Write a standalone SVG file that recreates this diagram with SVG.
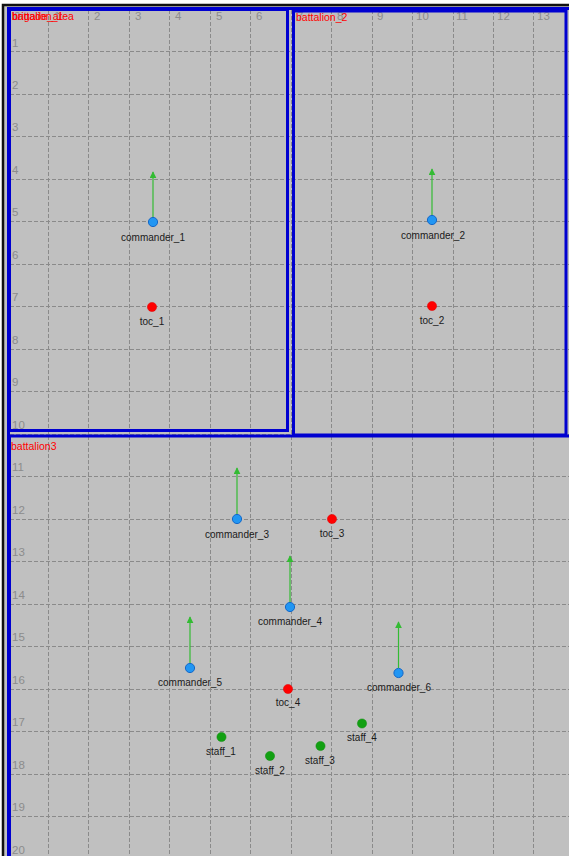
<svg xmlns="http://www.w3.org/2000/svg" width="569" height="856" viewBox="0 0 569 856">
<defs>
<style>
.grid{stroke:#8a8a8a;stroke-width:1;stroke-dasharray:4 2;fill:none}
.axis{font-family:"Liberation Sans",Arial,sans-serif;font-size:11.5px;fill:#8c8c8c}
.area{fill:none;stroke:#0000d0;stroke-width:3}
.alabel{font-family:"Liberation Sans",Arial,sans-serif;font-size:10.5px;fill:#ff0000}
.nlabel{font-family:"Liberation Sans",Arial,sans-serif;font-size:10px;fill:#1a1a1a;text-anchor:middle}
.cmd{fill:#2196f3;stroke:#1467c8;stroke-width:1}
.toc{fill:#ff0000;stroke:#e00000;stroke-width:0.5}
.staff{fill:#12a012;stroke:#0c8c0c;stroke-width:0.5}
.head{stroke:#33bb33;stroke-width:1.2;fill:none;marker-end:url(#ah)}
</style>
<marker id="ah" viewBox="0 0 10 10" refX="9" refY="5" markerWidth="7" markerHeight="7" markerUnits="userSpaceOnUse" orient="auto">
<path d="M0,0 L10,5 L0,10 z" fill="#33bb33"/>
</marker>
</defs>
<rect x="0" y="0" width="569" height="856" fill="#ffffff"/>
<rect x="3" y="4" width="566" height="852" fill="#c0c0c0"/>
<path d="M3,856 V5 H569" stroke="#111111" stroke-width="2.5" fill="none"/>
<g id="grid">
<path class="grid" d="M48.5,10V856M88.5,10V856M129.5,10V856M169.5,10V856M210.5,10V856M250.5,10V856M291.5,10V856M331.5,10V856M372.5,10V856M412.5,10V856M453.5,10V856M493.5,10V856M533.5,10V856"/>
<path class="grid" d="M10,51.5H569M10,94.5H569M10,136.5H569M10,179.5H569M10,221.5H569M10,264.5H569M10,306.5H569M10,349.5H569M10,391.5H569M10,434.5H569M10,476.5H569M10,519.5H569M10,561.5H569M10,604.5H569M10,646.5H569M10,689.5H569M10,731.5H569M10,774.5H569M10,816.5H569"/>
</g>
<g id="axis-labels" class="axis">
<text x="14" y="20">0</text>
<text x="54" y="20">1</text>
<text x="94" y="20">2</text>
<text x="135" y="20">3</text>
<text x="175" y="20">4</text>
<text x="216" y="20">5</text>
<text x="256" y="20">6</text>
<text x="297" y="20">7</text>
<text x="337" y="20">8</text>
<text x="377" y="20">9</text>
<text x="416" y="20">10</text>
<text x="456" y="20">11</text>
<text x="497" y="20">12</text>
<text x="537" y="20">13</text>
<text x="12" y="47">1</text>
<text x="12" y="89">2</text>
<text x="12" y="131">3</text>
<text x="12" y="174">4</text>
<text x="12" y="216">5</text>
<text x="12" y="259">6</text>
<text x="12" y="301">7</text>
<text x="12" y="344">8</text>
<text x="12" y="386">9</text>
<text x="12" y="429">10</text>
<text x="12" y="471">11</text>
<text x="12" y="514">12</text>
<text x="12" y="556">13</text>
<text x="12" y="599">14</text>
<text x="12" y="641">15</text>
<text x="12" y="684">16</text>
<text x="12" y="726">17</text>
<text x="12" y="769">18</text>
<text x="12" y="811">19</text>
<text x="12" y="854">20</text>
</g>
<g id="brigade_area">
<rect class="area" x="8.5" y="8.5" width="580" height="870"/>
<text class="alabel" x="12" y="20">brigade_area</text>
</g>
<g id="battalion_1">
<rect class="area" x="9.5" y="9.5" width="278" height="421"/>
<text class="alabel" x="12" y="20">battalion_1</text>
</g>
<g id="battalion_2">
<rect class="area" x="293.5" y="11" width="272.5" height="424"/>
<text class="alabel" x="296" y="21">battalion_2</text>
</g>
<g id="battalion3">
<rect class="area" x="9.5" y="436" width="580" height="440"/>
<text class="alabel" x="11" y="450">battalion3</text>
</g>
<g id="connectors">
<line class="head" x1="153" y1="217" x2="153" y2="172"/>
<line class="head" x1="432" y1="215" x2="432" y2="169"/>
<line class="head" x1="237" y1="514" x2="237" y2="468"/>
<line class="head" x1="290" y1="602" x2="290" y2="556"/>
<line class="head" x1="190" y1="663" x2="190" y2="617"/>
<line class="head" x1="398.5" y1="668" x2="398.5" y2="622"/>
</g>
<g id="commander_1"><circle class="cmd" cx="153" cy="222" r="4.6"/><text class="nlabel" x="153" y="241">commander_1</text></g>
<g id="toc_1"><circle class="toc" cx="152" cy="307" r="4.6"/><text class="nlabel" x="152" y="325">toc_1</text></g>
<g id="commander_2"><circle class="cmd" cx="432" cy="220" r="4.6"/><text class="nlabel" x="433" y="239">commander_2</text></g>
<g id="toc_2"><circle class="toc" cx="432" cy="306" r="4.6"/><text class="nlabel" x="432" y="324">toc_2</text></g>
<g id="commander_3"><circle class="cmd" cx="237" cy="519" r="4.6"/><text class="nlabel" x="237" y="538">commander_3</text></g>
<g id="toc_3"><circle class="toc" cx="332" cy="519" r="4.6"/><text class="nlabel" x="332" y="537">toc_3</text></g>
<g id="commander_4"><circle class="cmd" cx="290" cy="607" r="4.6"/><text class="nlabel" x="290" y="625">commander_4</text></g>
<g id="commander_5"><circle class="cmd" cx="190" cy="668" r="4.6"/><text class="nlabel" x="190" y="686">commander_5</text></g>
<g id="commander_6"><circle class="cmd" cx="398.5" cy="673" r="4.6"/><text class="nlabel" x="399" y="691">commander_6</text></g>
<g id="toc_4"><circle class="toc" cx="288" cy="689" r="4.6"/><text class="nlabel" x="288" y="706">toc_4</text></g>
<g id="staff_1"><circle class="staff" cx="221.5" cy="737" r="4.6"/><text class="nlabel" x="221" y="755">staff_1</text></g>
<g id="staff_2"><circle class="staff" cx="270" cy="756" r="4.6"/><text class="nlabel" x="270" y="774">staff_2</text></g>
<g id="staff_3"><circle class="staff" cx="320.5" cy="746" r="4.6"/><text class="nlabel" x="320" y="764">staff_3</text></g>
<g id="staff_4"><circle class="staff" cx="362" cy="723.5" r="4.6"/><text class="nlabel" x="362" y="741">staff_4</text></g>
</svg>
